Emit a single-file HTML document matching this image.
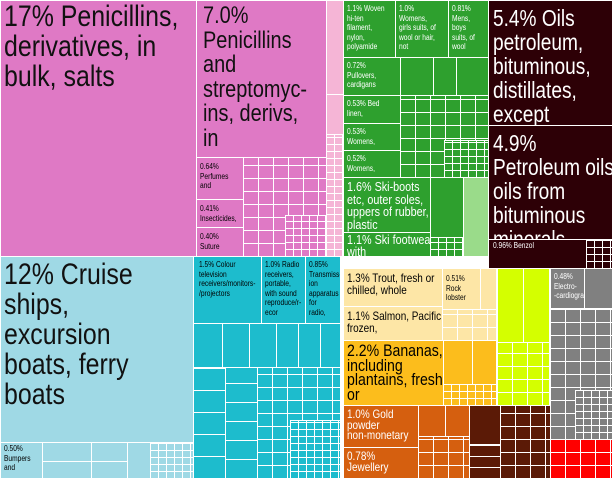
<!DOCTYPE html><html><head><style>
body{margin:0;width:613px;height:479px;overflow:hidden;background:#fff;position:relative;font-family:"Liberation Sans",sans-serif;}
.b{position:absolute;box-sizing:border-box;border:1px solid #fff;overflow:hidden;line-height:1.05;padding:1px 3px;white-space:nowrap}
.n{width:120%;transform:scaleX(.83);transform-origin:0 0}
.g{background-image:repeating-linear-gradient(90deg,transparent 0 14px,#fff 14px 15px),repeating-linear-gradient(0deg,transparent 0 12px,#fff 12px 13px)}
.s{background-image:repeating-linear-gradient(90deg,transparent 0 7px,#fff 7px 8px),repeating-linear-gradient(0deg,transparent 0 6px,#fff 6px 7px)}
.t{font-size:8px;line-height:1.2}
</style></head><body>
<div class="b" style="left:0;top:0;width:197px;height:257px;background:#df79c5;font-size:30px;line-height:30px;color:#111"><div class="n">17% Penicillins,<br>derivatives, in<br>bulk, salts</div></div>
<div class="b" style="left:196px;top:0;width:131px;height:158px;background:#df79c5;font-size:24px;line-height:24.5px;color:#111;padding-left:6px;padding-top:3px"><div class="n">7.0%<br>Penicillins<br>and<br>streptomyc-<br>ins, derivs,<br>in</div></div>
<div class="b t" style="left:196px;top:157px;width:48px;height:43px;background:#df79c5;padding-top:4px"><div class="n">0.64%<br>Perfumes<br>and</div></div>
<div class="b t" style="left:196px;top:199px;width:48px;height:29px;background:#df79c5;padding-top:4px"><div class="n">0.41%<br>Insecticides,</div></div>
<div class="b t" style="left:196px;top:227px;width:48px;height:30px;background:#df79c5;padding-top:4px"><div class="n">0.40%<br>Suture</div></div>
<div class="b g" style="left:243px;top:157px;width:84px;height:100px;background-color:#df79c5"></div>
<div class="b s" style="left:285px;top:215px;width:42px;height:42px;background-color:#df79c5"></div>
<div class="b" style="left:326px;top:0;width:18px;height:95px;background:#f5b5d6"></div>
<div class="b" style="left:326px;top:94px;width:18px;height:41px;background:#f5b5d6"></div>
<div class="b s" style="left:326px;top:134px;width:18px;height:123px;background-color:#f5b5d6"></div>
<div class="b" style="left:0;top:256px;width:194px;height:187px;background:#9fd9e5;font-size:30px;line-height:30px;color:#111;padding-top:3px"><div class="n">12% Cruise<br>ships,<br>excursion<br>boats, ferry<br>boats</div></div>
<div class="b t" style="left:0;top:442px;width:43px;height:37px;background:#9fd9e5"><div class="n">0.50%<br>Bumpers<br>and</div></div>
<div class="b" style="left:42px;top:442px;width:50px;height:20px;background:#9fd9e5"></div>
<div class="b" style="left:42px;top:461px;width:50px;height:18px;background:#9fd9e5"></div>
<div class="b" style="left:91px;top:442px;width:37px;height:20px;background:#9fd9e5"></div>
<div class="b" style="left:91px;top:461px;width:37px;height:18px;background:#9fd9e5"></div>
<div class="b" style="left:127px;top:442px;width:24px;height:37px;background:#9fd9e5"></div>
<div class="b s" style="left:150px;top:442px;width:44px;height:37px;background-color:#9fd9e5"></div>
<div class="b t" style="left:193px;top:256px;width:69px;height:68px;background:#1dbccd;padding-left:5px;padding-top:3px"><div class="n">1.5% Colour<br>television<br>receivers/monitors-<br>/projectors</div></div>
<div class="b t" style="left:261px;top:256px;width:45px;height:68px;background:#1dbccd;padding-top:3px"><div class="n">1.0% Radio<br>receivers,<br>portable,<br>with sound<br>reproduce/r-<br>ecor</div></div>
<div class="b t" style="left:305px;top:256px;width:36px;height:68px;background:#1dbccd;padding-top:3px"><div class="n">0.85%<br>Transmiss-<br>ion<br>apparatus<br>for<br>radio,</div></div>
<div class="b" style="left:193px;top:323px;width:30px;height:45px;background:#1dbccd"></div>
<div class="b" style="left:222px;top:323px;width:28px;height:45px;background:#1dbccd"></div>
<div class="b" style="left:249px;top:323px;width:28px;height:45px;background:#1dbccd"></div>
<div class="b" style="left:276px;top:323px;width:23px;height:45px;background:#1dbccd"></div>
<div class="b" style="left:298px;top:323px;width:23px;height:45px;background:#1dbccd"></div>
<div class="b" style="left:320px;top:323px;width:21px;height:45px;background:#1dbccd"></div>
<div class="b" style="left:193px;top:367px;width:33px;height:112px;background-color:#1dbccd;background-image:repeating-linear-gradient(0deg,transparent 0 21px,#fff 21px 22px)"></div>
<div class="b" style="left:225px;top:367px;width:33px;height:112px;background-color:#1dbccd;background-image:repeating-linear-gradient(0deg,transparent 0 18px,#fff 18px 19px)"></div>
<div class="b g" style="left:257px;top:367px;width:84px;height:112px;background-color:#1dbccd"></div>
<div class="b s" style="left:290px;top:420px;width:51px;height:59px;background-color:#1dbccd"></div>
<div class="b t" style="left:343px;top:0;width:53px;height:58px;background:#2ea02e;color:#fff;padding-top:3px"><div class="n">1.1% Woven<br>hi-ten<br>filament,<br>nylon,<br>polyamide</div></div>
<div class="b t" style="left:395px;top:0;width:54px;height:58px;background:#2ea02e;color:#fff;padding-top:3px"><div class="n">1.0%<br>Womens,<br>girls suits, of<br>wool or hair,<br>not</div></div>
<div class="b t" style="left:448px;top:0;width:41px;height:58px;background:#2ea02e;color:#fff;padding-top:3px"><div class="n">0.81%<br>Mens,<br>boys<br>suits, of<br>wool</div></div>
<div class="b t" style="left:343px;top:57px;width:58px;height:39px;background:#2ea02e;color:#fff;padding-top:3px"><div class="n">0.72%<br>Pullovers,<br>cardigans</div></div>
<div class="b t" style="left:343px;top:95px;width:58px;height:29px;background:#2ea02e;color:#fff;padding-top:3px"><div class="n">0.53% Bed<br>linen,</div></div>
<div class="b t" style="left:343px;top:123px;width:58px;height:28px;background:#2ea02e;color:#fff;padding-top:3px"><div class="n">0.53%<br>Womens,</div></div>
<div class="b t" style="left:343px;top:150px;width:58px;height:28px;background:#2ea02e;color:#fff;padding-top:3px"><div class="n">0.52%<br>Womens,</div></div>
<div class="b" style="left:400px;top:57px;width:34px;height:39px;background:#2ea02e"></div>
<div class="b" style="left:433px;top:57px;width:24px;height:39px;background:#2ea02e"></div>
<div class="b" style="left:456px;top:57px;width:33px;height:39px;background:#2ea02e"></div>
<div class="b g" style="left:400px;top:95px;width:89px;height:83px;background-color:#2ea02e"></div>
<div class="b s" style="left:444px;top:140px;width:45px;height:38px;background-color:#2ea02e"></div>
<div class="b" style="left:343px;top:177px;width:88px;height:56px;background:#2ea02e;color:#fff;font-size:13px;line-height:12.5px;padding-top:3px"><div class="n">1.6% Ski-boots<br>etc, outer soles,<br>uppers of rubber,<br>plastic</div></div>
<div class="b" style="left:343px;top:232px;width:88px;height:25px;background:#2ea02e;color:#fff;font-size:13px;line-height:12px"><div class="n">1.1% Ski footwear,<br>with</div></div>
<div class="b" style="left:430px;top:177px;width:34px;height:61px;background:#2ea02e"></div>
<div class="b s" style="left:430px;top:237px;width:34px;height:20px;background-color:#2ea02e"></div>
<div class="b" style="left:463px;top:177px;width:26px;height:80px;background:#9adb8a"></div>
<div class="b" style="left:488px;top:0;width:125px;height:126px;background:#2d0006;color:#fff;font-size:23px;line-height:24px;padding-left:4px;padding-top:5px"><div class="n">5.4% Oils<br>petroleum,<br>bituminous,<br>distillates,<br>except</div></div>
<div class="b" style="left:488px;top:125px;width:125px;height:115px;background:#2d0006;color:#fff;font-size:23px;line-height:24px;padding-left:4px;padding-top:5px"><div class="n">4.9%<br>Petroleum oils,<br>oils from<br>bituminous<br>minerals,</div></div>
<div class="b t" style="left:488px;top:239px;width:99px;height:30px;background:#2d0006;color:#fff;padding-left:4px"><div class="n">0.96% Benzol</div></div>
<div class="b s" style="left:586px;top:239px;width:27px;height:30px;background-color:#2d0006"></div>
<div class="b" style="left:343px;top:268px;width:100px;height:39px;background:#fde6a6;font-size:12px;line-height:11.5px;padding-top:4px"><div class="n">1.3% Trout, fresh or<br>chilled, whole</div></div>
<div class="b" style="left:343px;top:306px;width:100px;height:35px;background:#fde6a6;font-size:12px;line-height:11.5px;padding-top:4px"><div class="n">1.1% Salmon, Pacific,<br>frozen,</div></div>
<div class="b t" style="left:442px;top:268px;width:39px;height:42px;background:#fde6a6;padding-top:5px"><div class="n">0.51%<br>Rock<br>lobster</div></div>
<div class="b" style="left:480px;top:268px;width:17px;height:42px;background:#fde6a6"></div>
<div class="b g" style="left:442px;top:309px;width:55px;height:32px;background-color:#fde6a6"></div>
<div class="b" style="left:343px;top:340px;width:101px;height:66px;background:#fcbd1c;font-size:17px;line-height:14.5px;padding-top:3px"><div class="n">2.2% Bananas,<br>including<br>plantains, fresh<br>or</div></div>
<div class="b" style="left:443px;top:340px;width:30px;height:45px;background:#fcbd1c"></div>
<div class="b" style="left:472px;top:340px;width:25px;height:45px;background:#fcbd1c"></div>
<div class="b s" style="left:443px;top:384px;width:54px;height:22px;background-color:#fcbd1c"></div>
<div class="b" style="left:497px;top:268px;width:27px;height:75px;background:#d4ff00"></div>
<div class="b" style="left:523px;top:268px;width:27px;height:75px;background:#d4ff00"></div>
<div class="b g" style="left:497px;top:342px;width:53px;height:64px;background-color:#d4ff00"></div>
<div class="b" style="left:343px;top:405px;width:76px;height:43px;background:#d55f0f;color:#fff;font-size:12px;line-height:10.5px;padding-top:3px"><div class="n">1.0% Gold<br>powder<br>non-monetary</div></div>
<div class="b" style="left:343px;top:447px;width:76px;height:32px;background:#d55f0f;color:#fff;font-size:12px;line-height:11px;padding-top:3px"><div class="n">0.78%<br>Jewellery</div></div>
<div class="b" style="left:418px;top:405px;width:28px;height:32px;background:#d55f0f"></div>
<div class="b" style="left:445px;top:405px;width:25px;height:32px;background:#d55f0f"></div>
<div class="b g" style="left:418px;top:436px;width:52px;height:43px;background-color:#d55f0f"></div>
<div class="b" style="left:469px;top:405px;width:32px;height:40px;background:#5b1a06"></div>
<div class="b" style="left:469px;top:444px;width:32px;height:35px;background-color:#5b1a06;background-image:repeating-linear-gradient(0deg,transparent 0 10px,#fff 10px 11px)"></div>
<div class="b g" style="left:500px;top:405px;width:51px;height:74px;background-color:#5b1a06"></div>
<div class="b t" style="left:550px;top:268px;width:35px;height:41px;background:#808080;color:#fff;padding-top:3px"><div class="n">0.48%<br>Electro-<br>-cardiogra</div></div>
<div class="b" style="left:584px;top:268px;width:29px;height:41px;background:#808080"></div>
<div class="b g" style="left:550px;top:308px;width:63px;height:132px;background-color:#808080"></div>
<div class="b s" style="left:575px;top:390px;width:38px;height:50px;background-color:#808080"></div>
<div class="b g" style="left:550px;top:439px;width:63px;height:40px;background-color:#ff0000"></div>
</body></html>
